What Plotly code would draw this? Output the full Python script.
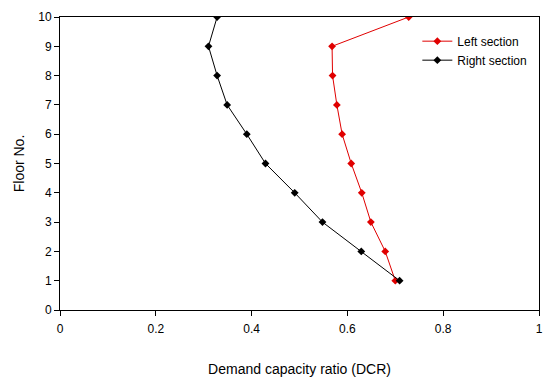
import plotly.graph_objects as go

floors = [1, 2, 3, 4, 5, 6, 7, 8, 9, 10]
left_dcr = [0.700, 0.679, 0.649, 0.630, 0.608, 0.589, 0.578, 0.569, 0.568, 0.728]
right_dcr = [0.709, 0.629, 0.548, 0.490, 0.429, 0.390, 0.349, 0.328, 0.310, 0.328]
x_ticks = [0, 0.2, 0.4, 0.6, 0.8, 1]
x_tick_labels = ["0", "0.2", "0.4", "0.6", "0.8", "1"]
y_ticks = list(range(0, 11))

fig = go.Figure()
fig.add_trace(go.Scatter(x=left_dcr, y=floors, mode="lines+markers", name="Left section",
                         line=dict(color="#e00000", width=1),
                         marker=dict(symbol="diamond", size=6, color="#e00000")))
fig.add_trace(go.Scatter(x=right_dcr, y=floors, mode="lines+markers", name="Right section",
                         line=dict(color="#000000", width=1),
                         marker=dict(symbol="diamond", size=6, color="#000000")))

font = dict(family="Liberation Sans, Arial, sans-serif", size=12, color="#000000")
fig.update_layout(
    width=555, height=390,
    margin=dict(l=52, r=24, t=9, b=88),
    paper_bgcolor="white", plot_bgcolor="white",
    font=font,
    showlegend=True,
    legend=dict(x=0.746, y=0.967, xanchor="left", yanchor="top",
                bgcolor="rgba(0,0,0,0)", font=dict(size=12), tracegroupgap=0,
                itemwidth=30),
    xaxis=dict(range=[0, 1], tickvals=x_ticks, ticktext=x_tick_labels, automargin=False,
               showgrid=False, zeroline=False, showline=True, linecolor="black",
               linewidth=1, mirror=True, ticks="outside", ticklen=5, tickcolor="black",
               ticklabelstandoff=3,
               title=dict(text="Demand capacity ratio (DCR)", standoff=28)),
    yaxis=dict(range=[0, 10], tickvals=y_ticks, automargin=False,
               showgrid=False, zeroline=False, showline=True, linecolor="black",
               linewidth=1, mirror=True, ticks="outside", ticklen=5, tickcolor="black",
               title=dict(text="Floor No.", standoff=10)),
)
fig.write_html("out.html")
